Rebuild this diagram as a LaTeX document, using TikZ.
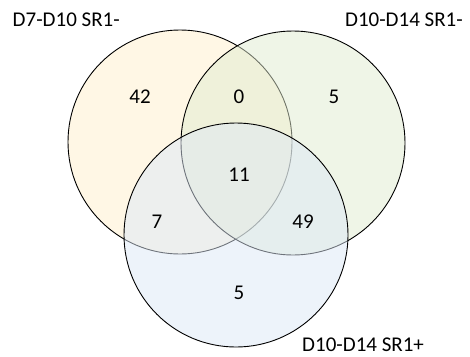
\documentclass[tikz,border=0pt]{standalone}
\usepackage{fontspec}
\setmainfont{Carlito}
\definecolor{setyellow}{RGB}{255,240,204}
\definecolor{setgreen}{RGB}{224,235,208}
\definecolor{setblue}{RGB}{220,231,246}
\tikzset{
  venn/.style = {circle, draw=black, line width=0.9pt, fill=#1,
                 fill opacity=0.5, minimum size=224pt,
                 inner sep=0pt, outer sep=0pt},
  venn/.default = white,
  count/.style = {font=\fontsize{21}{25}\selectfont},
  setname/.style = {font=\fontsize{21}{25}\selectfont, inner sep=0pt}
}
\begin{document}
\begin{tikzpicture}[x=1pt, y=-1pt]
	\useasboundingbox (0,0) rectangle (470,356);

	% Sets
	\node[venn=setyellow] (early) at (180,142) {}; % D7-D10 SR1-
	\node[venn=setgreen]  (late)  at (293,143) {}; % D10-D14 SR1-
	\node[venn=setblue]   (plus)  at (236,235) {}; % D10-D14 SR1+

	% Set names
	\node[setname, anchor=base west] (earlyname) at (12.5,26.7) {D7-D10 SR1-};
	\node[setname, anchor=base east] (latename)  at (463,26.7) {D10-D14 SR1-};
	\node[setname, anchor=base west] (plusname)  at (302,351.5) {D10-D14 SR1+};

	% Counts
	\node[count] (nearly)     at (140,97)  {42};
	\node[count] (nearlylate) at (239,97)  {0};
	\node[count] (nlate)      at (334,97)  {5};
	\node[count] (nall)       at (239,175) {11};
	\node[count] (nearlyplus) at (157,222) {7};
	\node[count] (nlateplus)  at (303,222) {49};
	\node[count] (nplus)      at (239,293) {5};
\end{tikzpicture}
\end{document}
